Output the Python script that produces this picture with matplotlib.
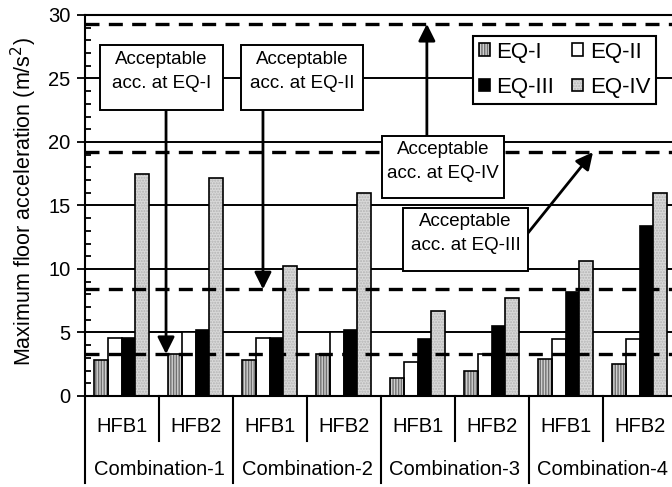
import numpy as np
import matplotlib
matplotlib.use("Agg")
import matplotlib.pyplot as plt
from matplotlib.patches import Rectangle, Patch
from matplotlib.lines import Line2D
import matplotlib.transforms as mtransforms

plt.rcParams['font.family'] = ['Liberation Sans', 'DejaVu Sans']
plt.rcParams['hatch.linewidth'] = 1.0

# data
combos = ["Combination-1", "Combination-2", "Combination-3", "Combination-4"]
hfbs = ["HFB1", "HFB2"]
series = ["EQ-I", "EQ-II", "EQ-III", "EQ-IV"]
eq1 = [2.85, 3.3, 2.85, 3.3, 1.45, 1.95, 2.95, 2.5]
eq2 = [4.6, 5.05, 4.6, 5.05, 2.65, 3.3, 4.5, 4.5]
eq3 = [4.55, 5.2, 4.55, 5.2, 4.5, 5.5, 8.15, 13.4]
eq4 = [17.5, 17.2, 10.2, 16.0, 6.7, 7.75, 10.6, 16.0]
limits = [3.3, 8.4, 19.2, 29.3]   # acceptable acc. EQ-I, II, III, IV

fig = plt.figure(figsize=(6.72, 4.87), dpi=100)
ax = fig.add_axes([0.1265, 0.1869, 0.8809, 0.7823])

n = len(eq1)
x = np.arange(n) + 0.5
w = 0.185
offs = np.array([-1.5, -0.5, 0.5, 1.5]) * w - 0.005

# style per series: (face, hatch, hatch colour)
styles = [("#d0d0d0", "||||||", "#707070"),
          ("white", None, None),
          ("black", None, None),
          ("#d9d9d9", "......", "#b4b4b4")]

for vals, off, (fc, hatch, hc) in zip([eq1, eq2, eq3, eq4], offs, styles):
    if hatch:
        ax.bar(x + off, vals, w, color=fc, hatch=hatch, edgecolor=hc, linewidth=0, zorder=2)
        ax.bar(x + off, vals, w, fill=False, edgecolor="black", linewidth=1.2, zorder=2.1)
    else:
        ax.bar(x + off, vals, w, color=fc, edgecolor="black", linewidth=1.2, zorder=2)

# solid grid
for g in [5, 10, 15, 20, 25]:
    ax.axhline(g, color="black", lw=1.4, zorder=1)

# dashed acceptable limits
for lim in limits:
    ax.axhline(lim, color="black", lw=2.4, dashes=(4.2, 2.8), zorder=3)

ax.set_xlim(0, n)
ax.set_ylim(0, 30)
ax.set_xticks([])
ax.set_yticks(np.arange(0, 31, 5))
ax.set_yticks(np.arange(0, 31, 1), minor=True)
ax.tick_params(axis="y", which="major", direction="out", length=5.5, width=1.3,
               labelsize=14.5, pad=5)
ax.tick_params(axis="y", which="minor", direction="in", length=4, width=1.3)
for s in ax.spines.values():
    s.set_linewidth(1.5)

ax.set_ylabel("Maximum floor acceleration (m/s$^2$)", fontsize=15.5)
ax.yaxis.set_label_coords(-0.078, 0.51)

# category labels below the axis
trans = mtransforms.blended_transform_factory(ax.transData, ax.transAxes)
for i in range(n):
    ax.text(x[i], -0.081, hfbs[i % 2], transform=trans, ha="center", va="center", fontsize=14.5)
for j, c in enumerate(combos):
    ax.text(2 * j + 1, -0.194, c, transform=trans, ha="center", va="center", fontsize=14.5)
for i in range(n + 1):
    bottom = -0.228 if i % 2 == 0 else -0.118
    ax.add_line(Line2D([i, i], [0, bottom], transform=trans, color="black", lw=1.5, clip_on=False))

# annotation boxes: (x0, y0, x1, y1), text
boxes = [((0.203, 22.52, 1.865, 27.64), "Acceptable\nacc. at EQ-I"),
         ((2.108, 22.52, 3.757, 27.64), "Acceptable\nacc. at EQ-II"),
         ((4.014, 15.59, 5.662, 20.47), "Acceptable\nacc. at EQ-IV"),
         ((4.297, 9.84, 5.986, 14.80), "Acceptable\nacc. at EQ-III")]
for (x0, y0, x1, y1), txt in boxes:
    ax.add_patch(Rectangle((x0, y0), x1 - x0, y1 - y0, facecolor="white",
                           edgecolor="black", lw=1.4, zorder=5))
    ax.text((x0 + x1) / 2, (y0 + y1) / 2 + 0.45, txt, ha="center", va="center",
            fontsize=13.5, linespacing=1.55, zorder=6)

# arrows from boxes to limit lines
arrows = [((1.095, 22.52), (1.095, limits[0])),
          ((2.405, 22.52), (2.405, limits[1])),
          ((4.62, 20.47), (4.62, limits[3])),
          ((5.986, 12.83), (6.865, limits[2]))]
for start, end in arrows:
    ax.annotate("", xy=end, xytext=start,
                arrowprops=dict(arrowstyle="-|>,head_length=0.6,head_width=0.3",
                                mutation_scale=17, color="black", lw=2,
                                shrinkA=0, shrinkB=0), zorder=4)

# legend (column-major order so rows read EQ-I/EQ-II, EQ-III/EQ-IV)
handles = []
for fc, hatch, hc in styles:
    if hatch:
        handles.append((Patch(facecolor=fc, hatch=hatch, edgecolor=hc, linewidth=0),
                        Patch(fill=False, edgecolor="black", linewidth=1.2)))
    else:
        handles.append(Patch(facecolor=fc, edgecolor="black", linewidth=1.2))
order = [0, 2, 1, 3]
leg = ax.legend([handles[k] for k in order], [series[k] for k in order], ncol=2,
                loc="upper left", bbox_to_anchor=(5.243 / n, 28.35 / 30), fontsize=16,
                handlelength=0.5, handleheight=0.5, handletextpad=0.3,
                columnspacing=0.8, labelspacing=0.65, borderpad=0.25,
                borderaxespad=0, fancybox=False, framealpha=1)
leg.get_frame().set_edgecolor("black")
leg.get_frame().set_linewidth(1.5)
leg.set_zorder(7)

fig.savefig("out.png", dpi=100)
